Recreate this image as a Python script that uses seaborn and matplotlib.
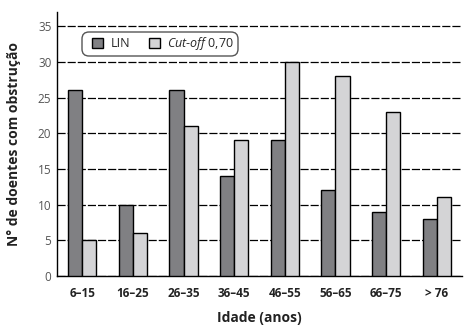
import matplotlib
matplotlib.use("Agg")
import matplotlib.pyplot as plt
from matplotlib.patches import FancyBboxPatch
import seaborn as sns
import pandas as pd

categories = ["6–15", "16–25", "26–35", "36–45", "46–55", "56–65", "66–75", "> 76"]
lin = [26, 10, 26, 14, 19, 12, 9, 8]
cutoff = [5, 6, 21, 19, 30, 28, 23, 11]
series_names = ["LIN", r"$\it{Cut}$-$\it{off}$ 0,70"]
yticks = [0, 5, 10, 15, 20, 25, 30, 35]

sns.set_style("white")
plt.rcParams["font.family"] = ["Open Sans", "DejaVu Sans"]
plt.rcParams["mathtext.fontset"] = "custom"
plt.rcParams["mathtext.it"] = "Open Sans:italic"
plt.rcParams["mathtext.rm"] = "Open Sans"

df = pd.DataFrame({
    "Idade": categories * 2,
    "valor": lin + cutoff,
    "serie": [series_names[0]] * len(categories) + [series_names[1]] * len(categories),
})

fig = plt.figure(figsize=(4.71, 3.25), dpi=100)
ax = fig.add_axes([0.121, 0.151, 0.860, 0.812])

sns.barplot(data=df, x="Idade", y="valor", hue="serie", order=categories,
            hue_order=series_names, palette=["#7f7f83", "#d4d4d6"],
            width=0.56, edgecolor="black", linewidth=1.0, ax=ax, zorder=3)

ax.set_xlim(-0.5, len(categories) - 0.5)
ax.set_ylim(0, 37)
ax.set_yticks(yticks)
ax.set_yticklabels([str(t) for t in yticks], color="#555555", fontsize=8.5)
ax.tick_params(axis="y", length=0, pad=4)
ax.set_xticks(range(len(categories)))
ax.set_xticklabels(categories, fontsize=8.5, fontweight="bold", color="#222222")
ax.tick_params(axis="x", which="major", length=0, pad=8)
ax.set_xticks([i - 0.5 for i in range(len(categories) + 1)], minor=True)
ax.tick_params(axis="x", which="minor", length=5, width=1, color="black", direction="out")

ax.yaxis.grid(True, color="black", linestyle=(0, (6.5, 1.6)), linewidth=0.9, zorder=0)
ax.set_axisbelow(True)
for s in ["top", "right"]:
    ax.spines[s].set_visible(False)
for s in ["left", "bottom"]:
    ax.spines[s].set_color("black")
    ax.spines[s].set_linewidth(1)

ax.set_xlabel("Idade (anos)", fontsize=10, fontweight="bold", color="#222222", labelpad=8)
ax.set_ylabel("N° de doentes com obstrução", fontsize=10, fontweight="bold", color="#222222", labelpad=12)

# rounded legend frame
frame = FancyBboxPatch((0.82, 2.69), 1.56, 0.24, boxstyle="round,pad=0,rounding_size=0.07",
                       transform=fig.dpi_scale_trans, facecolor="white", edgecolor="#555555",
                       linewidth=1.0, zorder=4, clip_on=False)
ax.add_artist(frame)

leg = ax.legend(loc="center", bbox_to_anchor=(0.262, 0.879), ncol=2, frameon=False,
                fontsize=9, handlelength=0.85, handleheight=0.9, handletextpad=0.6,
                columnspacing=1.5, borderpad=0.2, title=None)
leg.set_zorder(5)

fig.savefig("out.png", dpi=100)
